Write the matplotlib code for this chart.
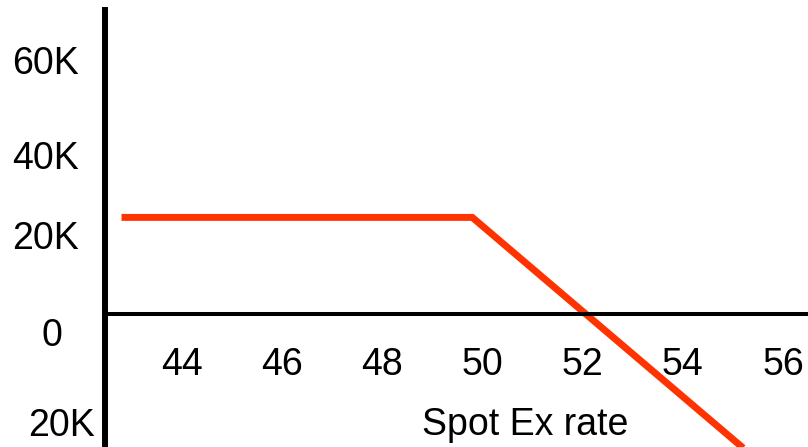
import matplotlib.pyplot as plt
from matplotlib.transforms import ScaledTranslation

# payoff line
spot = [42.8, 49.8, 55.3]
payoff = [21000, 21000, -30000]

xticks = [44, 46, 48, 50, 52, 54, 56]
yticks = [60000, 40000, 20000, 0, -20000]
ylabels = ['60K', '40K', '20K', '0', '20K']
# small per-label nudges (px) like the hand-placed slide text
ylab_dx = [0, 0, 0, -16, 16]
ylab_dy = [-22, -25, -13, -18, -16]

plt.rcParams['font.family'] = ['Liberation Sans', 'DejaVu Sans']

fig = plt.figure(figsize=(8.08, 4.47), dpi=100)
ax = fig.add_axes([105/808, 0, 703/808, 437/447])
ax.set_xlim(42.47, 56.5)
ax.set_ylim(-28913, 66087)

ax.plot(spot, payoff, color='#FF3300', lw=5, solid_capstyle='butt', solid_joinstyle='miter')

ax.spines['top'].set_visible(False)
ax.spines['right'].set_visible(False)
ax.spines['left'].set_linewidth(4.3)
ax.spines['bottom'].set_linewidth(2.9)
ax.spines['bottom'].set_position(('data', 0))

ax.set_xticks(xticks)
ax.set_xticklabels([str(v) for v in xticks])
ax.set_yticks(yticks)
ax.set_yticklabels(ylabels)
ax.tick_params(axis='x', length=0, pad=24, labelsize=27)
ax.tick_params(axis='y', length=0, pad=19, labelsize=27)

for lab, dx, dy in zip(ax.get_yticklabels(), ylab_dx, ylab_dy):
    lab.set_transform(lab.get_transform() + ScaledTranslation(dx/100, dy/100, fig.dpi_scale_trans))

fig.text(525/808, 1 - 425/447, 'Spot Ex rate', fontsize=27, ha='center', va='center')

fig.savefig('out.png', dpi=100)
